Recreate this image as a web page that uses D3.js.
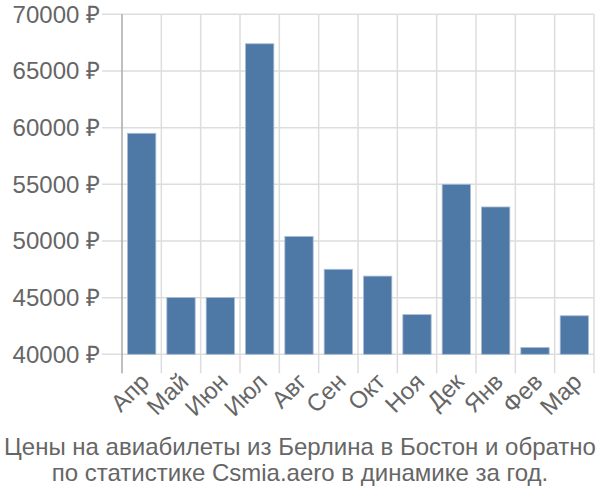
<!DOCTYPE html>
<html><head><meta charset="utf-8">
<script src="https://cdn.jsdelivr.net/npm/d3@7"></script>
<style>body{margin:0;background:#fff}text{font-family:"Liberation Sans",Arial,sans-serif}</style>
</head><body>
<svg id="c" width="600" height="500"></svg>
<script>
const months = ["Апр","Май","Июн","Июл","Авг","Сен","Окт","Ноя","Дек","Янв","Фев","Мар"];
const prices = [59500,45000,45000,67400,50400,47500,46900,43500,55000,53000,40600,43400];
const yTicks = [40000,45000,50000,55000,60000,65000,70000];
const titleLines = ["Цены на авиабилеты из Берлина в Бостон и обратно","по статистике Csmia.aero в динамике за год."];

const svg = d3.select("#c");
const L = 122, R = 594, T = 14.3, B = 354.3;
const x = d3.scaleBand().domain(months).range([L, R]).paddingInner(0.28).paddingOuter(0.14);
const y = d3.scaleLinear().domain([40000,70000]).range([B, T]);
const step = x.step();
const gridC = "#dddddd", textC = "#666666";

svg.append("g").selectAll("line").data(yTicks).join("line")
  .attr("x1", L-20).attr("x2", R).attr("y1", d=>y(d)).attr("y2", d=>y(d))
  .attr("stroke", gridC).attr("stroke-width", 1.5);
const bounds = months.map((m,i)=> L + step*(i+1));
svg.append("g").selectAll("line").data(bounds).join("line")
  .attr("x1", d=>d).attr("x2", d=>d).attr("y1", T).attr("y2", B+19)
  .attr("stroke", gridC).attr("stroke-width", 1.5);
svg.append("line").attr("x1", L).attr("x2", L).attr("y1", T).attr("y2", B+19)
  .attr("stroke", "#aaaaaa").attr("stroke-width", 1.5);

svg.append("g").selectAll("rect").data(prices).join("rect")
  .attr("x", (d,i)=>x(months[i])).attr("width", x.bandwidth())
  .attr("y", d=>y(d)).attr("height", d=>B - y(d))
  .attr("fill", "#4e79a7").attr("stroke", "#a9bcd4").attr("stroke-width", 0.8);

svg.append("g").selectAll("text").data(yTicks).join("text")
  .attr("x", 100).attr("y", d=>y(d)).attr("dy", "0.35em")
  .attr("text-anchor", "end").attr("fill", textC).attr("font-size", 24)
  .text(d=>d + " ₽");

svg.append("g").selectAll("text").data(months).join("text")
  .attr("transform", d=>`translate(${x(d)+x.bandwidth()/2+3},${B+23}) rotate(-45)`)
  .attr("text-anchor", "end").attr("fill", textC).attr("font-size", 24)
  .attr("dy", "0.35em")
  .text(d=>d);

svg.append("g").selectAll("text").data(titleLines).join("text")
  .attr("x", 300).attr("y", (d,i)=>455 + i*26)
  .attr("text-anchor", "middle").attr("fill", textC).attr("font-size", 24)
  .text(d=>d);
</script>
</body></html>
